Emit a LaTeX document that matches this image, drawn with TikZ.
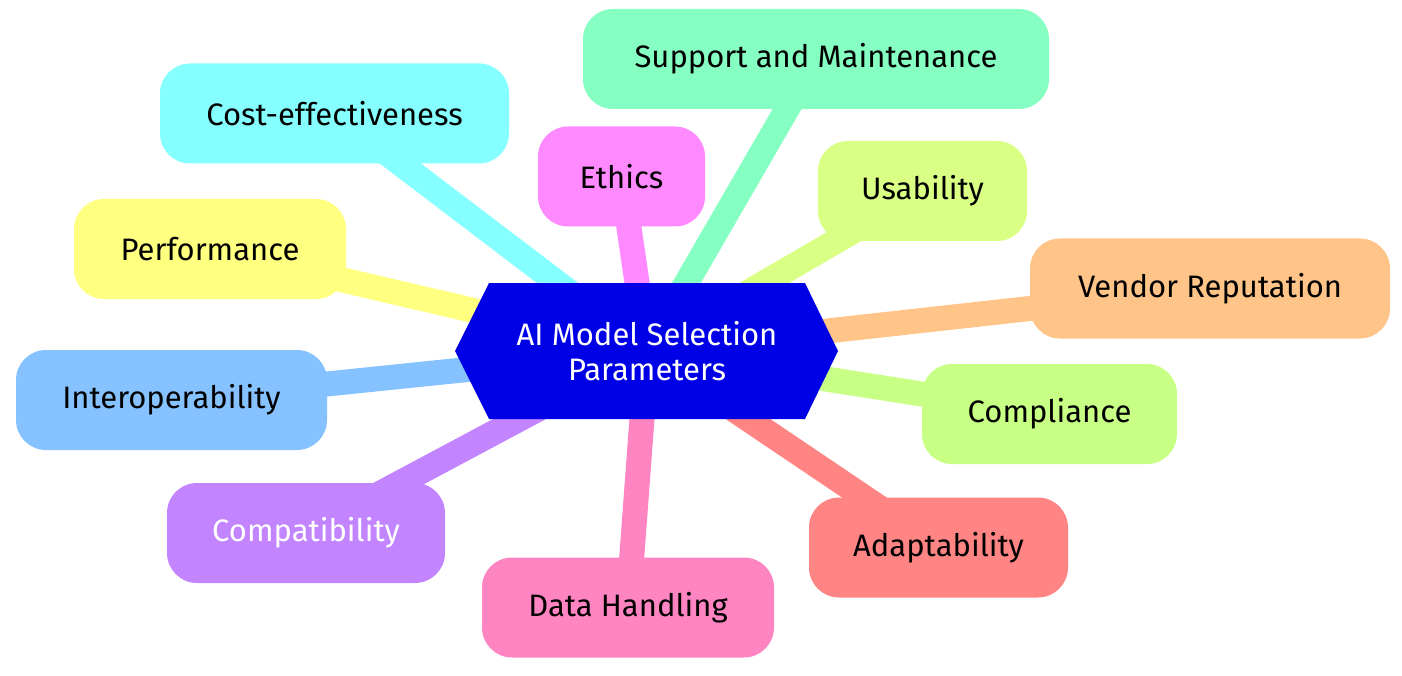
\documentclass[tikz,border=0pt]{standalone}
\usepackage{fontspec}
\setmainfont{Fira Sans}
\usetikzlibrary{backgrounds}
\definecolor{rootblue}{HTML}{0000E6}
\definecolor{cPerf}{HTML}{FFFF80}
\definecolor{cCost}{HTML}{85FFFF}
\definecolor{cEth}{HTML}{FF8AFF}
\definecolor{cSup}{HTML}{85FFC2}
\definecolor{cUse}{HTML}{D9FF85}
\definecolor{cVen}{HTML}{FFC487}
\definecolor{cInt}{HTML}{85C2FF}
\definecolor{cCmp}{HTML}{C8FF85}
\definecolor{cCpt}{HTML}{C285FF}
\definecolor{cAda}{HTML}{FF8585}
\definecolor{cDat}{HTML}{FF85C2}
\tikzset{
  leaf/.style={rounded corners=30pt, inner sep=0pt, align=center, font=\fontsize{31}{35}\selectfont, text=black},
  link/.style={line width=25pt},
}
\begin{document}
\begin{tikzpicture}[x=1pt,y=-1pt]
\useasboundingbox (0,0) rectangle (1402,676);
% root hexagon
\fill[rootblue] (489,283) -- (805,283) -- (838,351) -- (805,419) -- (489,419) -- (455,351) -- cycle;
\node[align=center, text=white, font=\fontsize{31}{35}\selectfont] (root) at (647,351) {AI Model Selection\\Parameters};
% leaves
\node[leaf, fill=cSup, minimum width=466pt, minimum height=100pt] (sup) at (816,59) {Support and Maintenance};
\node[leaf, fill=cCost, minimum width=349pt, minimum height=100pt] (cost) at (334.5,113.5) {Cost-effectiveness};
\node[leaf, fill=cEth, minimum width=167pt, minimum height=100pt] (eth) at (621.5,176.5) {Ethics};
\node[leaf, fill=cUse, minimum width=209pt, minimum height=100pt] (use) at (922.5,191) {Usability};
\node[leaf, fill=cPerf, minimum width=272pt, minimum height=100pt] (perf) at (210,249) {Performance};
\node[leaf, fill=cVen, minimum width=360pt, minimum height=100pt] (ven) at (1210,288.5) {Vendor Reputation};
\node[leaf, fill=cInt, minimum width=311pt, minimum height=100pt] (int) at (171.5,400) {Interoperability};
\node[leaf, fill=cCmp, minimum width=255pt, minimum height=100pt] (cmp) at (1049.5,414) {Compliance};
\node[leaf, fill=cCpt, minimum width=278pt, minimum height=100pt, text=white] (cpt) at (306,533) {Compatibility};
\node[leaf, fill=cAda, minimum width=259pt, minimum height=100pt] (ada) at (938.5,547.5) {Adaptability};
\node[leaf, fill=cDat, minimum width=292pt, minimum height=100pt] (dat) at (628,607.5) {Data Handling};
% links
\begin{pgfonlayer}{background}
\fill[white] (0,0) rectangle (1402,676);
\draw[link, cSup] (root.center) -- (sup.center);
\draw[link, cCost] (root.center) -- (cost.center);
\draw[link, cEth] (root.center) -- (eth.center);
\draw[link, cUse] (root.center) -- (use.center);
\draw[link, cPerf] (root.center) -- (perf.center);
\draw[link, cVen] (root.center) -- (ven.center);
\draw[link, cInt] (root.center) -- (int.center);
\draw[link, cCmp] (root.center) -- (cmp.center);
\draw[link, cCpt] (root.center) -- (cpt.center);
\draw[link, cAda] (root.center) -- (ada.center);
\draw[link, cDat] (root.center) -- (dat.center);
\end{pgfonlayer}
\end{tikzpicture}
\end{document}
